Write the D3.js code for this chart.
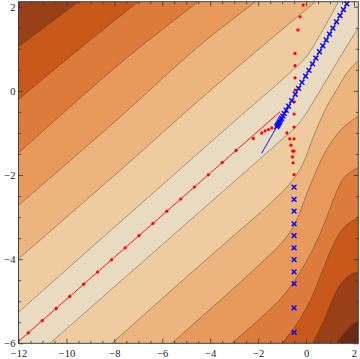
<!DOCTYPE html>
<html>
<head>
<meta charset="utf-8">
<script src="https://cdn.jsdelivr.net/npm/d3@7"></script>
<style>
  body { margin: 0; background: #fff; }
  svg { display: block; }
  .tick text { font-family: "Liberation Serif", "DejaVu Serif", serif; font-size: 10.5px; fill: #222; }
</style>
</head>
<body>
<div id="canvas"></div>
<script>
// plot range
var xDomain = [-12, 2.18]
var yDomain = [-6, 2.12]
var xMajor = [-12, -10, -8, -6, -4, -2, 0, 2]
var yMajor = [-6, -4, -2, 0, 2]

// band colours, from the valley outwards
var bandColors = ["#e9dbc2", "#eecca0", "#ecb47e", "#e89a5c", "#dc7b3c", "#c9591b", "#9a4019", "#6e2a13"]

// contour lines above the valley (left edge -> top edge)
var upperContours = [
    [[-12, -5.26], [-7.76, -3.12], [-4.42, -1.44], [-2.5, -0.48], [-1.4, 0.06], [-0.6, 0.47], [0, 0.8], [0.6, 1.35], [1.35, 2.12]],
    [[-12, -3.99], [-7.76, -1.89], [-4.42, -0.2], [-2.2, 0.88], [-0.6, 1.65], [0.4, 2.12]],
    [[-12, -2.72], [-7.76, -0.62], [-4.42, 1.09], [-2.1, 2.12]],
    [[-12, -1.476], [-7.76, 0.652], [-4.5, 2.12]],
    [[-12, -0.205], [-9.5, 0.98], [-7.0, 2.12]],
    [[-12, 1.05], [-9.5, 2.12]]
]

// contour lines below the valley (bottom edge -> right edge)
var lowerContours = [
    [[-10.69, -6], [-6, -3.655], [-3, -2.155], [-1.6, -1.455], [-1.0, -1.15], [-0.5, -0.9], [-0.05, -0.58], [0.45, -0.12], [1.0, 0.4], [1.6, 0.97], [2.18, 1.5]],
    [[-8.1, -6], [-5.26, -4.56], [-3, -3.43], [-1.6, -2.73], [-0.7, -2.22], [-0.15, -1.75], [0.3, -1.1], [0.8, -0.45], [1.3, 0.05], [1.8, 0.5], [2.18, 0.72]],
    [[-5.6, -6], [-4.42, -5.4], [-3, -4.68], [-1.8, -4.05], [-1.0, -3.6], [-0.5, -3.2], [0.1, -2.35], [0.8, -1.45], [1.5, -0.9], [2.18, -0.6]],
    [[-3.1, -6], [-1.9, -5.4], [-1.0, -4.9], [-0.3, -4.35], [0.3, -3.75], [0.8, -3.1], [1.2, -2.5], [1.6, -2.05], [2.18, -1.82]],
    [[-1.0, -6], [-0.4, -5.55], [0.2, -4.95], [0.7, -4.25], [1.1, -3.7], [1.5, -3.3], [1.9, -3.1], [2.18, -3.04]],
    [[0.28, -6], [0.75, -5.45], [1.15, -4.9], [1.5, -4.55], [1.85, -4.37], [2.18, -4.3]],
    [[1.3, -6], [1.6, -5.75], [1.9, -5.57], [2.18, -5.5]]
]

var redLine = [[-12, -5.955], [-1.085, -0.4975]]
var blueLine = [[-1.85, -1.48], [1.75, 2.12]]

var redDots = [
    [-11.59, -5.75], [-11.01, -5.46], [-10.43, -5.17], [-9.86, -4.885], [-9.28, -4.595], [-8.70, -4.305],
    [-8.12, -4.015], [-7.55, -3.73], [-6.97, -3.44], [-6.39, -3.15], [-5.81, -2.86], [-5.23, -2.57],
    [-4.66, -2.285], [-4.08, -1.995], [-3.50, -1.705], [-2.92, -1.415],
    [-2.2, -1.13], [-1.85, -1.0], [-1.71, -0.95], [-1.57, -0.92], [-1.43, -0.88],
    [-0.8, -1.0], [-0.68, -1.14], [-0.5, -1.14], [-0.63, -1.29], [-0.56, -1.43], [-0.5, -1.43],
    [-0.57, -1.57], [-0.54, -1.71], [-0.5, -1.99],
    [-0.5, -0.86], [-0.5, -0.55], [-0.49, -0.26], [-0.46, 0.02], [-0.46, 0.31], [-0.46, 0.6],
    [-0.46, 0.89], [-0.34, 1.45], [-0.25, 1.76], [-0.12, 2.04]
]

var blueMarks = [
    [1.70, 2.07], [1.56, 1.93], [1.42, 1.79], [1.27, 1.64], [1.12, 1.49], [0.98, 1.35], [0.84, 1.21],
    [0.70, 1.07], [0.56, 0.93], [0.41, 0.78], [0.27, 0.64], [0.12, 0.49], [-0.02, 0.35], [-0.17, 0.20],
    [-0.31, 0.06], [-0.45, -0.08], [-0.60, -0.23], [-0.73, -0.36], [-0.83, -0.46], [-0.91, -0.54],
    [-0.97, -0.60], [-1.02, -0.65], [-1.06, -0.69], [-1.10, -0.73], [-1.13, -0.76], [-1.16, -0.79],
    [-1.19, -0.82], [-1.22, -0.85],
    [-0.5, -2.29], [-0.5, -2.58], [-0.5, -2.86], [-0.5, -3.16], [-0.5, -3.44], [-0.5, -3.73],
    [-0.5, -4.01], [-0.5, -4.30], [-0.5, -4.58], [-0.5, -5.16], [-0.5, -5.74]
]

var width = 360
var height = 359
var plotLeft = 18.5, plotRight = 358.3, plotTop = 1.7, plotBottom = 343.3

var xScale = d3.scaleLinear().domain(xDomain).range([plotLeft, plotRight])
var yScale = d3.scaleLinear().domain(yDomain).range([plotBottom, plotTop])

var svg = d3.select("#canvas")
    .append("svg")
    .attr("width", width)
    .attr("height", height)

svg.append("clipPath")
    .attr("id", "plot")
    .append("rect")
    .attr("x", plotLeft)
    .attr("y", plotTop)
    .attr("width", plotRight - plotLeft)
    .attr("height", plotBottom - plotTop)

var plot = svg.append("g").attr("clip-path", "url(#plot)")

var line = d3.line()
    .x(function (d) { return xScale(d[0]) })
    .y(function (d) { return yScale(d[1]) })
    .curve(d3.curveCatmullRom.alpha(0.5))

// closes a contour through a frame corner
function region(points, corner) {
    return line(points) + "L" + xScale(corner[0]) + "," + yScale(corner[1]) + "Z"
}

// valley band underneath everything
plot.append("rect")
    .attr("x", plotLeft)
    .attr("y", plotTop)
    .attr("width", plotRight - plotLeft)
    .attr("height", plotBottom - plotTop)
    .attr("fill", bandColors[0])

plot.selectAll(".upper")
    .data(upperContours)
    .enter()
    .append("path")
    .attr("class", "upper")
    .attr("d", function (d) { return region(d, [xDomain[0], yDomain[1]]) })
    .attr("fill", function (d, i) { return bandColors[i + 1] })

plot.selectAll(".lower")
    .data(lowerContours)
    .enter()
    .append("path")
    .attr("class", "lower")
    .attr("d", function (d) { return region(d, [xDomain[1], yDomain[0]]) })
    .attr("fill", function (d, i) { return bandColors[i + 1] })

// contour strokes
plot.selectAll(".cline")
    .data(upperContours.concat(lowerContours))
    .enter()
    .append("path")
    .attr("class", "cline")
    .attr("d", line)
    .attr("fill", "none")
    .attr("stroke", "rgba(70,50,35,0.45)")
    .attr("stroke-width", 0.9)

var straight = d3.line()
    .x(function (d) { return xScale(d[0]) })
    .y(function (d) { return yScale(d[1]) })

plot.append("path")
    .attr("d", straight(redLine))
    .attr("fill", "none")
    .attr("stroke", "#ff0000")
    .attr("stroke-width", 0.9)

plot.append("path")
    .attr("d", straight(blueLine))
    .attr("fill", "none")
    .attr("stroke", "#0000ff")
    .attr("stroke-width", 0.9)

svg.selectAll(".dot")
    .data(redDots)
    .enter()
    .append("circle")
    .attr("class", "dot")
    .attr("cx", function (d) { return xScale(d[0]) })
    .attr("cy", function (d) { return yScale(d[1]) })
    .attr("r", 1.6)
    .attr("fill", "#ff0000")

svg.selectAll(".cross")
    .data(blueMarks)
    .enter()
    .append("path")
    .attr("class", "cross")
    .attr("d", function (d) {
        var cx = xScale(d[0]), cy = yScale(d[1]), s = 2.4
        return "M" + (cx - s) + "," + (cy - s) + "L" + (cx + s) + "," + (cy + s) +
            "M" + (cx - s) + "," + (cy + s) + "L" + (cx + s) + "," + (cy - s)
    })
    .attr("stroke", "#0000ff")
    .attr("stroke-width", 1.4)
    .attr("fill", "none")

// frame and ticks
var xMinor = d3.range(-12, 2.01, 0.5).filter(function (v) { return xMajor.indexOf(v) < 0 })
var yMinor = d3.range(-6, 2.01, 0.5).filter(function (v) { return yMajor.indexOf(v) < 0 })
var fmt = d3.format("d")

function styleAxis(g) {
    g.select(".domain").remove()
    g.selectAll(".tick line").attr("stroke", "#333").attr("stroke-width", 0.8)
}

svg.append("g").attr("transform", `translate(0,${plotBottom})`)
    .call(d3.axisBottom(xScale).tickValues(xMajor).tickSize(-4.5).tickPadding(6).tickFormat(fmt)).call(styleAxis)
svg.append("g").attr("transform", `translate(0,${plotBottom})`)
    .call(d3.axisBottom(xScale).tickValues(xMinor).tickSize(-2.5).tickFormat("")).call(styleAxis)
svg.append("g").attr("transform", `translate(0,${plotTop})`)
    .call(d3.axisTop(xScale).tickValues(xMajor).tickSize(-4.5).tickFormat("")).call(styleAxis)
svg.append("g").attr("transform", `translate(0,${plotTop})`)
    .call(d3.axisTop(xScale).tickValues(xMinor).tickSize(-2.5).tickFormat("")).call(styleAxis)

svg.append("g").attr("transform", `translate(${plotLeft},0)`)
    .call(d3.axisLeft(yScale).tickValues(yMajor).tickSize(-4.5).tickPadding(3).tickFormat(fmt)).call(styleAxis)
svg.append("g").attr("transform", `translate(${plotLeft},0)`)
    .call(d3.axisLeft(yScale).tickValues(yMinor).tickSize(-2.5).tickFormat("")).call(styleAxis)
svg.append("g").attr("transform", `translate(${plotRight},0)`)
    .call(d3.axisRight(yScale).tickValues(yMajor).tickSize(-4.5).tickFormat("")).call(styleAxis)
svg.append("g").attr("transform", `translate(${plotRight},0)`)
    .call(d3.axisRight(yScale).tickValues(yMinor).tickSize(-2.5).tickFormat("")).call(styleAxis)

svg.append("rect")
    .attr("x", plotLeft)
    .attr("y", plotTop)
    .attr("width", plotRight - plotLeft)
    .attr("height", plotBottom - plotTop)
    .attr("fill", "none")
    .attr("stroke", "#333")
    .attr("stroke-width", 0.9)
</script>
</body>
</html>
